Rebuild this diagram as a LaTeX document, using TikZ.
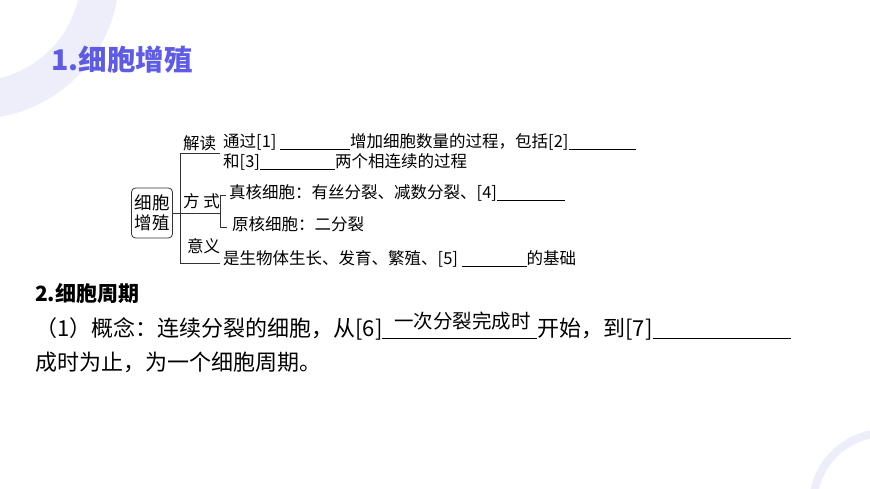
\documentclass[tikz,border=0pt]{standalone}
\usepackage{fontspec}
\setmainfont{Noto Sans CJK SC}
\definecolor{ring}{HTML}{EEEEFB}
\definecolor{titlec}{HTML}{5E5CE6}
\newcommand{\blank}[1]{\rule[-2pt]{#1pt}{0.7pt}}
\begin{document}
\begin{tikzpicture}[x=1pt,y=-1pt,
  txt/.style={anchor=west,inner sep=0pt,font=\fontsize{16.5}{18}\selectfont},
  ln/.style={draw=black!80,line width=0.7pt}]
\useasboundingbox (0,0) rectangle (870,489);
\fill[white] (0,0) rectangle (870,489);
\begin{scope}
\clip (0,0) rectangle (870,489);
\draw[ring,line width=38pt] (-25,-25) circle[radius=125];
\draw[ring,line width=8pt] (885,505) circle[radius=72];
\end{scope}
\node[anchor=west,inner sep=0pt,text=titlec,font=\fontsize{28.5}{30}\selectfont\bfseries] (t1) at (51,60) {1.细胞增殖};
% box
\node[draw=black!80,rounded corners=4pt,line width=0.8pt,inner sep=3pt,align=center,font=\fontsize{17.5}{20}\selectfont,minimum width=40pt,minimum height=50pt] (box) at (152,213) {细胞\\增殖};
\coordinate (v1) at (180,153);
\coordinate (v3) at (180,263);
\coordinate (e1) at (220,153);
\coordinate (e2) at (220,213);
\coordinate (e3) at (220,263);
\draw[ln] (e1) -- (v1) -- (v3) -- (e3);
\draw[ln] (box.east) -- (e2);
\coordinate (s1) at (220,195);
\coordinate (s2) at (220,227);
\draw[ln] (226,195) -- (s1) -- (s2) -- (227,227);
\node[txt] (l1) at (183,143) {解读};
\node[txt] (l2) at (183,201) {方 式};
\node[txt] (l3) at (187,246) {意义};
\node[txt] (a1) at (223,142) {通过[1] \blank{70}增加细胞数量的过程，包括[2]\blank{67}};
\node[txt] (a2) at (223,162) {和[3]\blank{75}两个相连续的过程};
\node[txt] (a3) at (229,193) {真核细胞：有丝分裂、减数分裂、[4]\blank{68}};
\node[txt] (a4) at (232,224) {原核细胞：二分裂};
\node[txt] (a5) at (223,259) {是生物体生长、发育、繁殖、[5] \blank{65}的基础};
% section 2
\node[anchor=west,inner sep=0pt,font=\fontsize{21}{23}\selectfont\bfseries] (t2) at (35,294) {2.细胞周期};
\node[txt,font=\fontsize{22}{24}\selectfont] (b1) at (35,329) {（1）概念：连续分裂的细胞，从[6]\blank{155}开始，到[7]\blank{138}};
\node[txt,font=\fontsize{19.5}{22}\selectfont] (b0) at (394,321) {一次分裂完成时};
\node[txt,font=\fontsize{22}{24}\selectfont] (b2) at (35,362) {成时为止，为一个细胞周期。};
\end{tikzpicture}
\end{document}
